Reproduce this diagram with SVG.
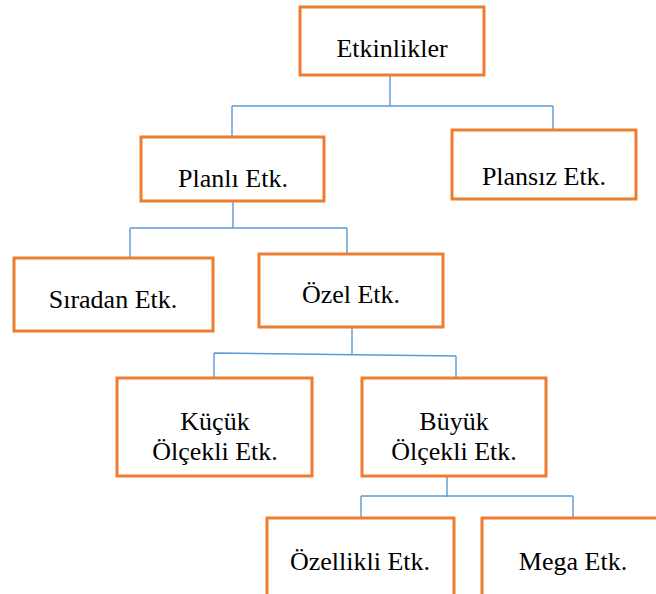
<svg xmlns="http://www.w3.org/2000/svg" width="656" height="594" viewBox="0 0 656 594">
<style>
.box{fill:#fff;stroke:#ED7D31;stroke-width:3}
.lbl{font-family:'Liberation Serif','Times New Roman',Times,'DejaVu Serif',serif;font-size:26px;fill:#000;text-anchor:middle}
.con{fill:none;stroke:#5B9BD5;stroke-width:1.4}
</style>
<rect width="656" height="594" fill="#fff"/>
<g id="connectors">
<path class="con" d="M390,75 V106 M232,106 H553 M232,106 V137 M553,106 V130"/>
<path class="con" d="M233,201 V228 M130,228 H347 M130,228 V258 M347,228 V254"/>
<path class="con" d="M352,327 V355 M214,353 L456,356 M214,353 V378 M456,356 V378"/>
<path class="con" d="M447,476 V497 M361,496 H573 M361,496 V518 M573,496 V518"/>
</g>
<g id="etkinlikler"><rect class="box" x="300" y="7" width="184" height="68"/><text class="lbl" x="392" y="57">Etkinlikler</text></g>
<g id="planli"><rect class="box" x="141" y="137" width="183" height="64"/><text class="lbl" x="233" y="187">Planlı Etk.</text></g>
<g id="plansiz"><rect class="box" x="452" y="130" width="184" height="69"/><text class="lbl" x="544" y="185">Plansız Etk.</text></g>
<g id="siradan"><rect class="box" x="14" y="258" width="199" height="73"/><text class="lbl" x="113" y="308">Sıradan Etk.</text></g>
<g id="ozel"><rect class="box" x="259" y="254" width="184" height="73"/><text class="lbl" x="351" y="303">Özel Etk.</text></g>
<g id="kucuk"><rect class="box" x="117" y="378" width="195" height="98"/><text class="lbl" x="215" y="430">Küçük</text><text class="lbl" x="215" y="460">Ölçekli Etk.</text></g>
<g id="buyuk"><rect class="box" x="362" y="378" width="184" height="98"/><text class="lbl" x="454" y="430">Büyük</text><text class="lbl" x="454" y="460">Ölçekli Etk.</text></g>
<g id="ozellikli"><rect class="box" x="267" y="518" width="187" height="90"/><text class="lbl" x="360" y="570">Özellikli Etk.</text></g>
<g id="mega"><rect class="box" x="482" y="518" width="190" height="90"/><text class="lbl" x="573" y="570">Mega Etk.</text></g>
</svg>
